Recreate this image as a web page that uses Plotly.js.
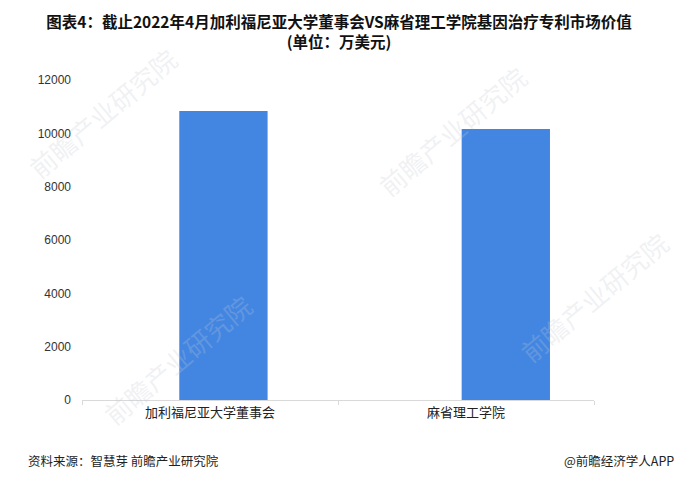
<!DOCTYPE html>
<html>
<head>
<meta charset="utf-8">
<script src="https://cdn.plot.ly/plotly-3.0.1.min.js"></script>
<style>html,body{margin:0;padding:0;background:#fff;}#chart{width:678px;height:483px;}</style>
</head>
<body>
<div id="chart"></div>
<script>
const categories = ["加利福尼亚大学董事会", "麻省理工学院"];
const values = [10840, 10160];
const yTicks = [0, 2000, 4000, 6000, 8000, 10000, 12000];

const cjk = '"Noto Sans CJK SC", "Noto Sans", sans-serif';
const barOffsets = [-0.12, -0.017];

const traces = categories.map((c, i) => ({
  type: 'bar',
  x: [c],
  y: [values[i]],
  width: 0.345,
  offset: barOffsets[i],
  marker: {color: '#4286E2'},
  hoverinfo: 'skip'
}));

const wm = [];
const wmPos = [[0.04, 0.90], [0.723, 0.842], [0.185, 0.128], [1.0, 0.322]];
wmPos.forEach(p => wm.push({
  xref: 'paper', yref: 'paper', x: p[0], y: p[1], xanchor: 'center', yanchor: 'middle',
  text: '前瞻产业研究院',
  showarrow: false, textangle: -40, font: {family: cjk, size: 26, color: 'rgba(195,200,210,0.25)'}
}));

const layout = {
  width: 678, height: 483,
  margin: {l: 82, r: 84, t: 80, b: 83},
  paper_bgcolor: '#fff', plot_bgcolor: '#fff',
  showlegend: false,
  barmode: 'overlay',
  title: {
    text: '<b>图表4：截止2022年4月加利福尼亚大学董事会VS麻省理工学院基因治疗专利市场价值</b><br><b>(单位：万美元)</b>',
    font: {family: cjk, size: 15.5, color: '#111'},
    x: 0.5, xanchor: 'center', y: 0.942, yanchor: 'top'
  },
  xaxis: {
    type: 'category',
    range: [-0.5, 1.5],
    showline: true, linecolor: '#d9d9d9', linewidth: 1,
    ticks: 'outside', tickson: 'boundaries', ticklen: 4, tickcolor: '#d9d9d9',
    tickfont: {family: cjk, size: 13, color: '#222'},
    showgrid: false, zeroline: false, fixedrange: true
  },
  yaxis: {
    range: [0, 12000],
    tickvals: yTicks,
    ticktext: yTicks.map(String),
    showline: false, showgrid: false, zeroline: false,
    ticks: '', ticklabelstandoff: 10,
    tickfont: {family: 'Liberation Sans, Arial, sans-serif', size: 12, color: '#333'},
    fixedrange: true
  },
  annotations: wm.concat([
    {xref: 'paper', yref: 'paper', x: -0.109, y: -0.19, xanchor: 'left', yanchor: 'middle',
     text: '资料来源：智慧芽 前瞻产业研究院', showarrow: false,
     font: {family: cjk, size: 12.5, color: '#222'}},
    {xref: 'paper', yref: 'paper', x: 1.16, y: -0.19, xanchor: 'right', yanchor: 'middle',
     text: '@前瞻经济学人APP', showarrow: false,
     font: {family: cjk, size: 12.5, color: '#222'}}
  ])
};

Plotly.newPlot('chart', traces, layout, {displayModeBar: false, staticPlot: true});
</script>
</body>
</html>
